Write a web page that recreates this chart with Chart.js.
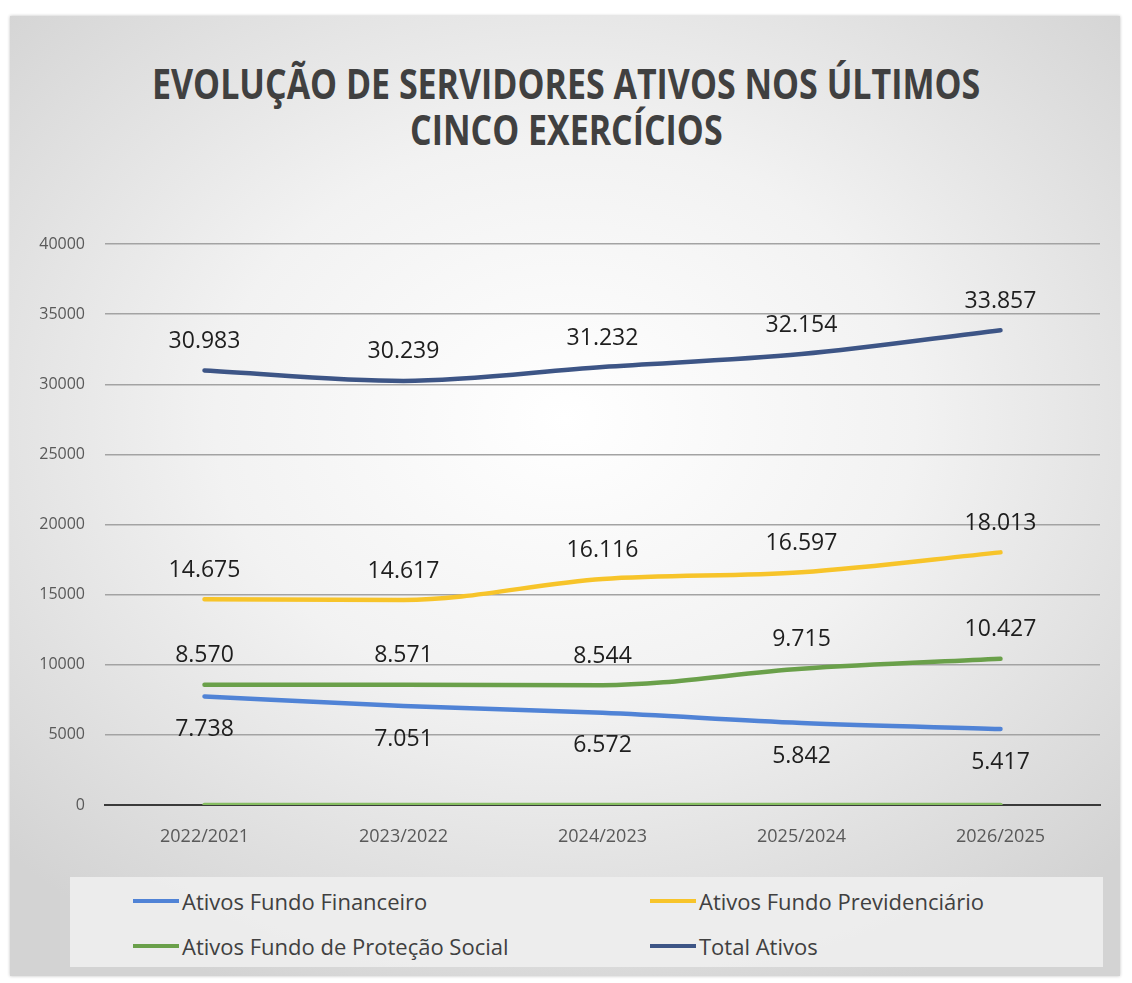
<!DOCTYPE html>
<html>
<head>
<meta charset="utf-8">
<script src="https://cdn.jsdelivr.net/npm/chart.js@4/dist/chart.umd.min.js"></script>
<style>
  body { margin: 0; background: #fff; width: 1132px; height: 983px; position: relative; overflow: hidden; font-family: "Open Sans", sans-serif; }
  #panel {
    position: absolute; left: 10px; top: 16px; width: 1110px; height: 960px;
    background: radial-gradient(ellipse 70% 65% at 50% 42%, #ffffff 0%, #f2f2f2 45%, #d3d3d3 100%);
    box-shadow: 0 0 3px rgba(0,0,0,0.25);
  }
  #title { position: absolute; left: 0; top: 60px; width: 1132px; text-align: center; color: #404040; font-weight: 700; font-size: 42px; }
  #title div { height: 46px; line-height: 46px; }
  #title span { display: inline-block; transform-origin: center; white-space: nowrap; }
  #chart { position: absolute; left: 0; top: 0; }
  #legend { position: absolute; left: 70px; top: 877px; width: 1033px; height: 90px; background: rgba(238,238,238,0.9); }
  .item { position: absolute; height: 30px; line-height: 30px; font-size: 22px; color: #404040; white-space: nowrap; }
  .item i { position: absolute; left: 0; top: 13px; width: 46px; height: 4px; }
  .item span { position: absolute; left: 49px; top: 0; }
</style>
</head>
<body>
<div id="panel"></div>
<div id="title">
  <div><span id="t1">EVOLUÇÃO DE SERVIDORES ATIVOS NOS ÚLTIMOS</span></div>
  <div><span id="t2">CINCO EXERCÍCIOS</span></div>
</div>
<canvas id="chart" width="1132" height="870"></canvas>
<div id="legend"></div>
<script>
const labels = ["2022/2021", "2023/2022", "2024/2023", "2025/2024", "2026/2025"];
const fundoFinanceiro = [7738, 7051, 6572, 5842, 5417];
const fundoPrevidenciario = [14675, 14617, 16116, 16597, 18013];
const fundoProtecaoSocial = [8570, 8571, 8544, 9715, 10427];
const totalAtivos = [30983, 30239, 31232, 32154, 33857];
const zeroSeries = [0, 0, 0, 0, 0];
const yTicks = [0, 5000, 10000, 15000, 20000, 25000, 30000, 35000, 40000];

// squeeze the title like the narrow font in the original
const t1 = document.getElementById("t1");
const scale = 828 / t1.offsetWidth;
t1.style.transform = "scaleX(" + scale + ")";
document.getElementById("t2").style.transform = "scaleX(" + scale + ")";

function fmt(v) {
  return v.toString().replace(/\B(?=(\d{3})+(?!\d))/g, ".");
}

const valueLabels = {
  id: "valueLabels",
  afterDatasetsDraw(chart) {
    const ctx = chart.ctx;
    ctx.save();
    ctx.font = "23px 'Open Sans'";
    ctx.fillStyle = "#1e1e1e";
    ctx.textAlign = "center";
    ctx.textBaseline = "middle";
    chart.data.datasets.forEach((ds, i) => {
      if (ds.labelOffset === undefined) return;
      chart.getDatasetMeta(i).data.forEach((pt, j) => {
        ctx.fillText(fmt(ds.data[j]), pt.x, pt.y + ds.labelOffset);
      });
    });
    ctx.restore();
  }
};

const chart = new Chart(document.getElementById("chart"), {
  type: "line",
  data: {
    labels: labels,
    datasets: [
      { label: "Ativos Fundo Financeiro", data: fundoFinanceiro, borderColor: "#5083d6", labelOffset: 33 },
      { label: "Ativos Fundo Previdenciário", data: fundoPrevidenciario, borderColor: "#f7c42a", labelOffset: -29 },
      { label: "Ativos Fundo de Proteção Social", data: fundoProtecaoSocial, borderColor: "#6aa04a", labelOffset: -29 },
      { label: "Total Ativos", data: totalAtivos, borderColor: "#3d5586", labelOffset: -29 },
      { label: "", data: zeroSeries, borderColor: "#86bd62", noLegend: true }
    ]
  },
  options: {
    responsive: false,
    animation: false,
    layout: { padding: { top: 244, right: 32, left: 0, bottom: 0 } },
    elements: {
      line: { borderWidth: 4.5, cubicInterpolationMode: "monotone", borderCapStyle: "round" },
      point: { radius: 0 }
    },
    plugins: { legend: { display: false }, tooltip: { enabled: false } },
    scales: {
      x: {
        offset: true,
        grid: { display: false },
        border: { color: "#3a3a3a", width: 2 },
        ticks: { color: "#595959", font: { family: "Open Sans", size: 18 }, padding: 13 },
        afterFit(s) { s.height = 65; }
      },
      y: {
        min: 0,
        max: 40000,
        afterBuildTicks(s) { s.ticks = yTicks.map(v => ({ value: v })); },
        grid: { color: "#a3a3a3", lineWidth: 1.5, drawTicks: false },
        border: { display: false },
        ticks: { color: "#595959", font: { family: "Open Sans", size: 16 }, padding: 20, callback: v => String(v) },
        afterFit(s) { s.width = 105; }
      }
    }
  },
  plugins: [valueLabels]
});

// legend in two columns, like the original
const legendPos = [[63, 9], [580, 9], [63, 54], [580, 54]];
let k = 0;
chart.data.datasets.forEach(ds => {
  if (ds.noLegend) return;
  const el = document.createElement("div");
  el.className = "item";
  el.style.left = legendPos[k][0] + "px";
  el.style.top = legendPos[k][1] + "px";
  el.innerHTML = '<i style="background:' + ds.borderColor + '"></i><span>' + ds.label + "</span>";
  document.getElementById("legend").appendChild(el);
  k++;
});
</script>
</body>
</html>
